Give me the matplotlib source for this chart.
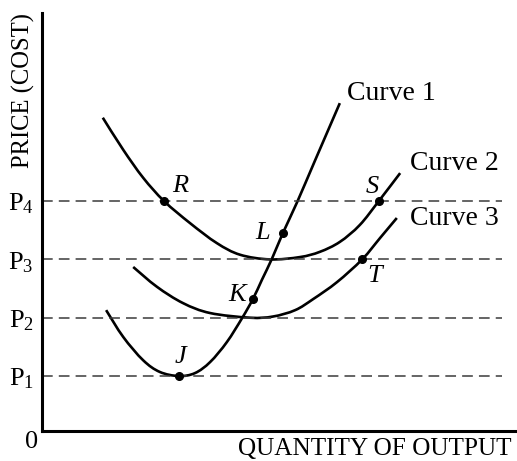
import matplotlib
matplotlib.use("Agg")
from matplotlib import pyplot as plt
from matplotlib.path import Path
from matplotlib.patches import PathPatch

plt.rcParams['font.family'] = ['Liberation Serif', 'DejaVu Serif']
plt.rcParams['mathtext.fontset'] = 'custom'
plt.rcParams['mathtext.rm'] = 'Liberation Serif'
plt.rcParams['mathtext.it'] = 'Liberation Serif:italic'

# price levels P1..P4
p_levels = [1, 2, 3, 4]
p_labels = [r'P$_1$', r'P$_2$', r'P$_3$', r'P$_4$']

# curve 1 (steep U, min at J)
c1_x = [1.35, 1.71, 2.13, 2.48, 2.88, 3.22, 3.54, 3.89, 4.21, 4.44, 4.63, 4.84, 5.07, 5.37, 5.75, 6.27]
c1_y = [2.13, 1.67, 1.27, 1.07, 1.00, 1.05, 1.24, 1.58, 1.99, 2.32, 2.65, 3.01, 3.45, 3.98, 4.70, 5.68]

# curve 2 (upper U, min on P3)
c2_x = [1.28, 1.71, 2.13, 2.57, 3.12, 3.68, 4.17, 4.80, 5.43, 5.85, 6.27, 6.69, 7.09, 7.54]
c2_y = [5.43, 4.88, 4.40, 4.00, 3.62, 3.28, 3.08, 3.00, 3.04, 3.13, 3.30, 3.59, 4.00, 4.48]

# curve 3 (middle U, min on P2)
c3_x = [1.92, 2.42, 2.97, 3.54, 4.38, 4.86, 5.33, 5.71, 6.21, 6.74, 7.12, 7.47]
c3_y = [2.87, 2.53, 2.25, 2.08, 2.00, 2.02, 2.13, 2.32, 2.61, 3.00, 3.37, 3.71]

# marked points
pt_names = ['R', 'S', 'L', 'K', 'J', 'T']
pt_x = [2.57, 7.09, 5.07, 4.44, 2.88, 6.74]
pt_y = [4.00, 4.00, 3.45, 2.32, 1.00, 3.00]
lbl_x = [2.91, 6.95, 4.65, 4.11, 2.91, 7.01]
lbl_y = [4.26, 4.24, 3.45, 2.39, 1.33, 2.72]

curve_names = ['Curve 1', 'Curve 2', 'Curve 3']
curve_lbl_x = [6.42, 7.75, 7.75]
curve_lbl_y = [5.85, 4.65, 3.71]


def smooth_path(xs, ys):
    # catmull-rom through the read points, drawn as bezier segments
    pts = list(zip(xs, ys))
    pts = [pts[0]] + pts + [pts[-1]]
    verts = [pts[1]]
    codes = [Path.MOVETO]
    for i in range(1, len(pts) - 2):
        p0, p1, p2, p3 = pts[i - 1], pts[i], pts[i + 1], pts[i + 2]
        b1 = (p1[0] + (p2[0] - p0[0]) / 6, p1[1] + (p2[1] - p0[1]) / 6)
        b2 = (p2[0] - (p3[0] - p1[0]) / 6, p2[1] - (p3[1] - p1[1]) / 6)
        verts += [b1, b2, p2]
        codes += [Path.CURVE4] * 3
    return Path(verts, codes)


fig = plt.figure(figsize=(5.17, 4.61), dpi=100)
ax = fig.add_axes([42/517, 30/461, 475/517, 418/461])
ax.set_xlim(0, 10)
ax.set_ylim(0.057, 7.226)

for s in ['top', 'right']:
    ax.spines[s].set_visible(False)
for s in ['left', 'bottom']:
    ax.spines[s].set_linewidth(2.2)

for p in p_levels:
    ax.plot([0, 9.68], [p, p], color='#3a3a3a', lw=1.1, dashes=(7, 4))

for cx, cy in [(c1_x, c1_y), (c2_x, c2_y), (c3_x, c3_y)]:
    ax.add_patch(PathPatch(smooth_path(cx, cy), fill=False, edgecolor='black',
                           lw=1.9, capstyle='butt'))

ax.plot(pt_x, pt_y, 'o', color='black', ms=5.5, ls='none')
for name, x, y in zip(pt_names, lbl_x, lbl_y):
    ax.text(x, y, name, fontsize=19, style='italic', ha='center', va='center')

for name, x, y in zip(curve_names, curve_lbl_x, curve_lbl_y):
    ax.text(x, y, name, fontsize=20, ha='left', va='center')

ax.set_xticks([])
ax.set_yticks(p_levels)
ax.set_yticklabels(p_labels, fontsize=19)
ax.tick_params(axis='y', length=0, pad=6)

ax.text(-0.04, 1.0, 'PRICE (COST)', transform=ax.transAxes, rotation=90,
        fontsize=17.7, ha='center', va='top')
ax.text(0.989, -0.017, 'QUANTITY OF OUTPUT', transform=ax.transAxes,
        fontsize=18.2, ha='right', va='top')
ax.text(-0.021, -0.026, '0', transform=ax.transAxes, fontsize=19,
        ha='center', va='center')

fig.savefig('out.png', dpi=100)
